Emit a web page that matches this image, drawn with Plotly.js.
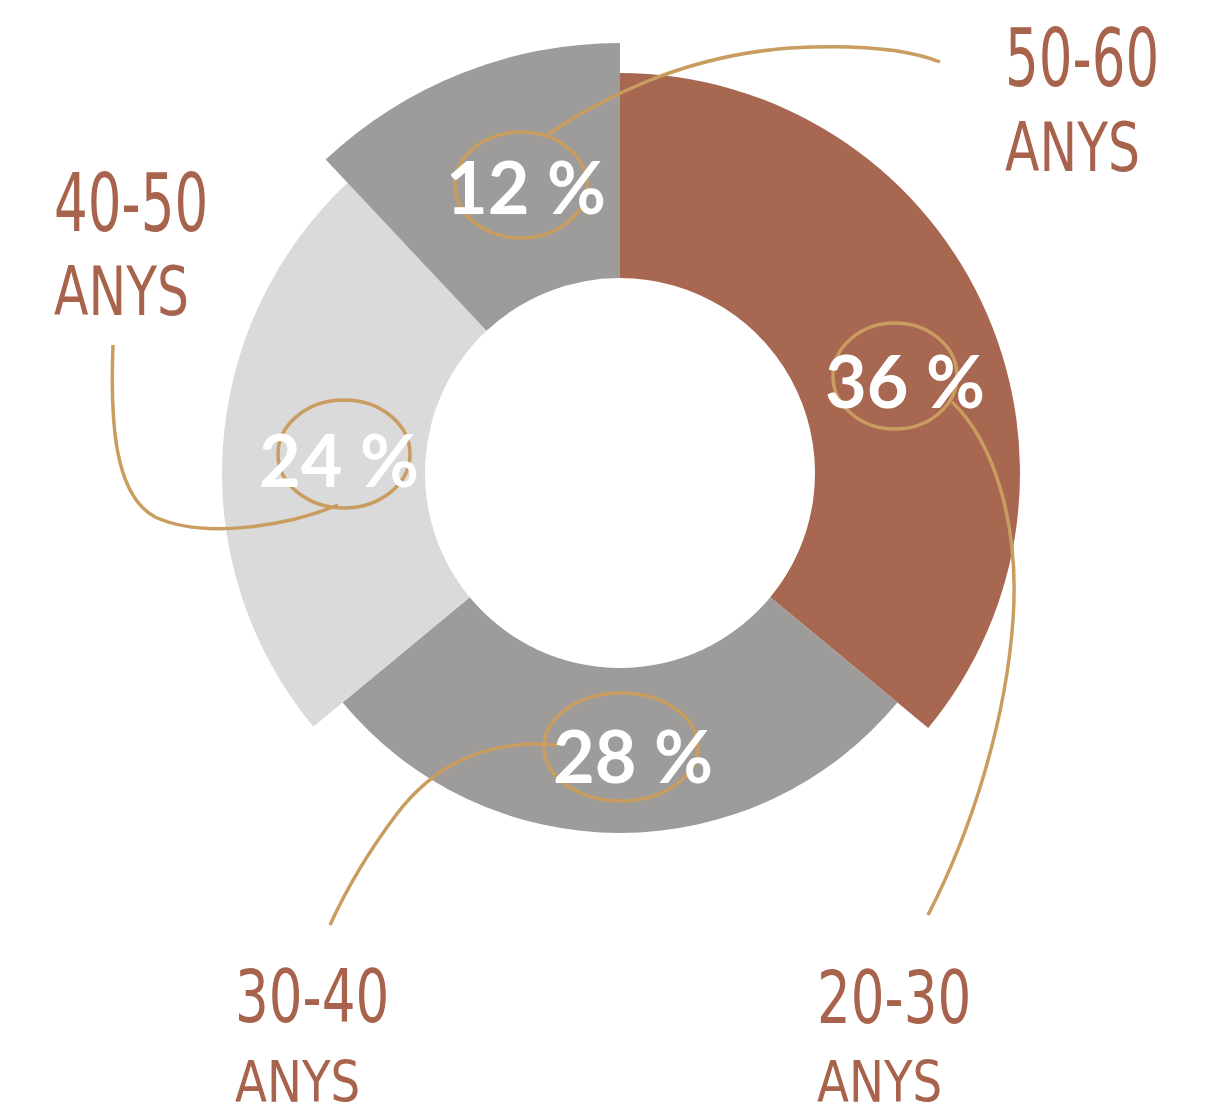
<!DOCTYPE html>
<html>
<head>
<meta charset="utf-8">
<script src="https://cdn.plot.ly/plotly-3.0.1.min.js"></script>
<style>html,body{margin:0;padding:0;background:#fff;}#chart{width:1213px;height:1116px;}</style>
</head>
<body>
<div id="chart"></div>
<script>
// ---- data ----
const ageRanges = ['20-30', '30-40', '40-50', '50-60'];
const unitLabel = 'ANYS';
const shares = [36, 28, 24, 12];

// ---- style ----
const sliceColors = ['#A86751', '#9D9C9A', '#DADADA', '#9D9C9A'];
const outerRadii = [400, 360, 398, 430];   // px, hand-drawn uneven ring
const innerRadius = 195;
const cx = 620, cy = 473, W = 1213, H = 1116;
const gold = '#C99C5F';
const labelBrown = '#A8634C';
const handFont = '"DejaVu Sans Condensed", "DejaVu Sans", sans-serif';

const traces = [];
shares.forEach((v, i) => {
  const R = outerRadii[i];
  traces.push({
    type: 'pie',
    values: shares,
    labels: ageRanges.map(a => a + ' ' + unitLabel.toLowerCase()),
    sort: false,
    direction: 'clockwise',
    rotation: 0,
    hole: innerRadius / R,
    textinfo: 'none',
    hoverinfo: 'skip',
    marker: {
      colors: sliceColors.map((c, j) => j === i ? c : 'rgba(0,0,0,0)'),
      line: {width: 0}
    },
    domain: {
      x: [(cx - R) / W, (cx + R) / W],
      y: [(H - cy - R) / H, (H - cy + R) / H]
    },
    showlegend: false
  });
});
traces.push({type: 'scatter', x: [], y: [], xaxis: 'x', yaxis: 'y', showlegend: false, hoverinfo: 'skip'});

// percentage label positions & callout geometry (pixel space)
const pctPos = [[905, 380], [633, 755], [339, 459], [526, 186]];
const rings = [[895, 376, 62, 53], [621, 747, 77, 54], [344, 454, 66, 54], [521, 185, 66, 53]];
const leaders = [
  'M 952,402 C 992,440 1020,520 1013,620 C 1006,720 972,830 928,915',
  'M 557,745 C 480,738 430,770 396,815 C 366,855 346,890 330,925',
  'M 338,505 C 290,525 205,540 155,517 C 115,495 110,425 113,345',
  'M 548,134 C 600,100 680,56 790,48 C 860,44 910,50 940,62'
];
// [x-left, range-line y, range stretch, unit-line y, unit size, unit stretch]
const labelGeom = [
  [815, 997, 1.25, 1082, 52, 1.1],
  [233, 996, 1.25, 1082, 52, 1.1],
  [52, 203, 1.35, 291, 56, 1.2],
  [1003, 58, 1.35, 147, 56, 1.2]
];

const shapes = [];
rings.forEach(r => shapes.push({type: 'circle', xref: 'x', yref: 'y',
  x0: r[0] - r[2], x1: r[0] + r[2], y0: r[1] - r[3], y1: r[1] + r[3],
  line: {color: gold, width: 3.5}}));
leaders.forEach(p => shapes.push({type: 'path', xref: 'x', yref: 'y', path: p,
  line: {color: gold, width: 3.5}}));

const annotations = [];
const stretch = {};
shares.forEach((v, i) => {
  const g = labelGeom[i];
  annotations.push({xref: 'x', yref: 'y', x: pctPos[i][0], y: pctPos[i][1],
    text: v + ' %', showarrow: false, xanchor: 'center', yanchor: 'middle',
    font: {family: 'Lato, sans-serif', size: 72, color: '#ffffff', weight: 700}});
  stretch[annotations.length] = g[2];
  annotations.push({xref: 'x', yref: 'y', x: g[0], y: g[1],
    text: ageRanges[i], showarrow: false, xanchor: 'left', yanchor: 'middle',
    font: {family: handFont, size: 59, color: labelBrown}});
  stretch[annotations.length] = g[5];
  annotations.push({xref: 'x', yref: 'y', x: g[0], y: g[3],
    text: unitLabel, showarrow: false, xanchor: 'left', yanchor: 'middle',
    font: {family: handFont, size: g[4], color: labelBrown}});
});

const layout = {
  width: W, height: H,
  margin: {l: 0, r: 0, t: 0, b: 0, pad: 0},
  paper_bgcolor: '#ffffff', plot_bgcolor: 'rgba(0,0,0,0)',
  showlegend: false,
  xaxis: {range: [0, W], visible: false, fixedrange: true, domain: [0, 1]},
  yaxis: {range: [H, 0], visible: false, fixedrange: true, domain: [0, 1]},
  shapes: shapes,
  annotations: annotations
};

Plotly.newPlot('chart', traces, layout, {displayModeBar: false, staticPlot: true}).then(gd => {
  // taller hand-lettered look for the age labels
  Object.keys(stretch).forEach(k => {
    const t = gd.querySelector('.annotation[data-index="' + k + '"] text.annotation-text');
    if (t) {
      t.style.transformBox = 'fill-box';
      t.style.transformOrigin = 'center';
      t.style.transform = 'scaleY(' + stretch[k] + ')';
    }
  });
});
</script>
</body>
</html>
